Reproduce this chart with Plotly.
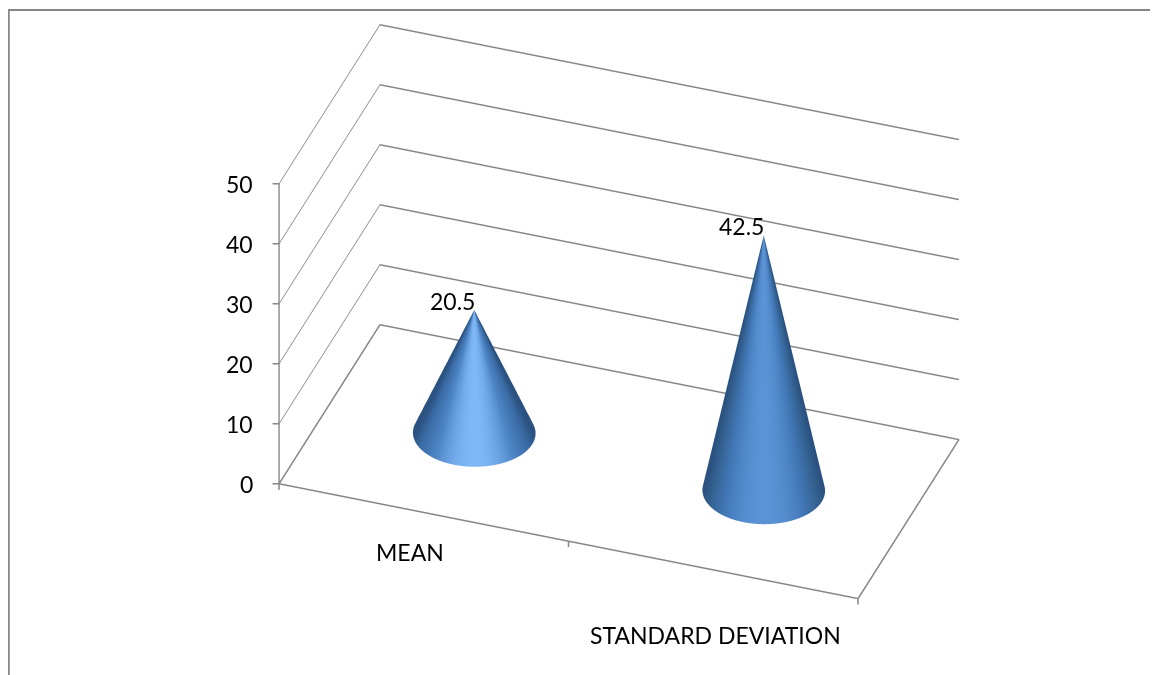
import numpy as np
import plotly.graph_objects as go

categories = ["MEAN", "STANDARD DEVIATION"]
values = [20.5, 42.5]
z_ticks = [0, 10, 20, 30, 40, 50]
label_text = ["20.5", "42.5"]
x_tick_marks = [0, 1, 2]

X_RANGE = [0, 2]
Y_RANGE = [0, 1]
Z_RANGE = [-1, 50]
RADIUS = 0.2
GREY = "#868686"
FONT = "Lato"
TEXT_SIZE = 23
CATEGORY_SHIFT = [(-14, -40), (2, -65)]
SCALES = [
    [[0.0, "#2a5180"], [0.2, "#3a6aa3"], [0.6, "#4d85c6"], [1.0, "#7fb7f7"]],
    [[0.0, "#2a5180"], [0.2, "#33608f"], [0.6, "#4379b8"], [1.0, "#5b93d6"]],
]

VIEW = np.array([0.277, -0.781, 0.559])
CENTER = np.array([0.0, 0.0, -0.097])
EYE = CENTER + VIEW * 2.0
view_az = np.arctan2(VIEW[1], VIEW[0])

fig = go.Figure()

t = np.linspace(0, 2 * np.pi, 181)
s = np.linspace(0, 1, 24)
T, S = np.meshgrid(t, s)
for i, v in enumerate(values):
    cx = i + 0.5
    cy = 0.5
    X = cx + RADIUS * (1 - S) * np.cos(T)
    Y = cy + RADIUS * (1 - S) * np.sin(T)
    Z = v * S
    shade = np.clip(np.cos(T - view_az), 0, 1) ** 2
    fig.add_trace(go.Surface(
        x=X, y=Y, z=Z, surfacecolor=shade, cmin=0, cmax=1,
        colorscale=SCALES[i], showscale=False, hoverinfo="skip",
        lighting=dict(ambient=1, diffuse=0, specular=0, roughness=1, fresnel=0),
        contours=dict(x=dict(highlight=False), y=dict(highlight=False), z=dict(highlight=False)),
    ))

# floor outline
fig.add_trace(go.Scatter3d(
    x=[X_RANGE[0], X_RANGE[1], X_RANGE[1], X_RANGE[0], X_RANGE[0]],
    y=[Y_RANGE[0], Y_RANGE[0], Y_RANGE[1], Y_RANGE[1], Y_RANGE[0]],
    z=[0, 0, 0, 0, 0],
    mode="lines", line=dict(color=GREY, width=3), hoverinfo="skip", showlegend=False,
))
# category separators on the front edge
for m in x_tick_marks:
    fig.add_trace(go.Scatter3d(
        x=[m, m], y=[Y_RANGE[0], Y_RANGE[0]], z=[0, Z_RANGE[0]],
        mode="lines", line=dict(color=GREY, width=3), hoverinfo="skip", showlegend=False,
    ))

axis_common = dict(
    showbackground=False, showspikes=False, zeroline=False, title=dict(text=""),
    showticklabels=False, ticks="",
)

annotations = []
for i, v in enumerate(values):
    annotations.append(dict(x=i + 0.5, y=0.5, z=v, text=label_text[i], showarrow=False,
                            xshift=-22, yshift=9, font=dict(family=FONT, size=TEXT_SIZE, color="#000000")))
for i, c in enumerate(categories):
    annotations.append(dict(x=i + 0.5, y=Y_RANGE[0], z=0, text=c, showarrow=False,
                            xshift=CATEGORY_SHIFT[i][0], yshift=CATEGORY_SHIFT[i][1],
                            font=dict(family=FONT, size=TEXT_SIZE, color="#000000")))
for z in z_ticks:
    annotations.append(dict(x=X_RANGE[0], y=Y_RANGE[0], z=z, text=str(z), showarrow=False,
                            xanchor="right", xshift=-24,
                            font=dict(family=FONT, size=TEXT_SIZE, color="#000000")))
    annotations.append(dict(x=X_RANGE[0], y=Y_RANGE[0], z=z, text="", showarrow=True, arrowhead=0,
                            arrowwidth=1.5, arrowcolor=GREY, ax=-8, ay=0, standoff=0))

fig.update_layout(
    width=1150, height=667,
    margin=dict(l=0, r=0, t=0, b=0),
    paper_bgcolor="white",
    showlegend=False,
    font=dict(family=FONT, size=TEXT_SIZE, color="#000000"),
    shapes=[
        dict(type="line", xref="paper", yref="paper", x0=0, x1=1, y0=1 - 2 / 667, y1=1 - 2 / 667,
             line=dict(color=GREY, width=2)),
        dict(type="line", xref="paper", yref="paper", x0=0.75 / 1150, x1=0.75 / 1150, y0=0, y1=1 - 1 / 667,
             line=dict(color=GREY, width=2)),
    ],
    scene=dict(
        domain=dict(x=[72 / 1150, 1], y=[0, 1]),
        aspectmode="manual",
        aspectratio=dict(x=1.69 * 1.09, y=0.83 * 1.09, z=1.02 * 1.085),
        camera=dict(eye=dict(x=EYE[0], y=EYE[1], z=EYE[2]), up=dict(x=0, y=0, z=1),
                    center=dict(x=CENTER[0], y=CENTER[1], z=CENTER[2]),
                    projection=dict(type="orthographic")),
        xaxis=dict(axis_common, range=X_RANGE, showgrid=False, showline=False),
        yaxis=dict(axis_common, range=Y_RANGE, showgrid=False, showline=False),
        zaxis=dict(axis_common, range=Z_RANGE, tickmode="array", tickvals=z_ticks, showgrid=True,
                   gridcolor=GREY, gridwidth=3, showline=True, linecolor=GREY, linewidth=3),
        annotations=annotations,
    ),
)

fig.write_html("out.html")
